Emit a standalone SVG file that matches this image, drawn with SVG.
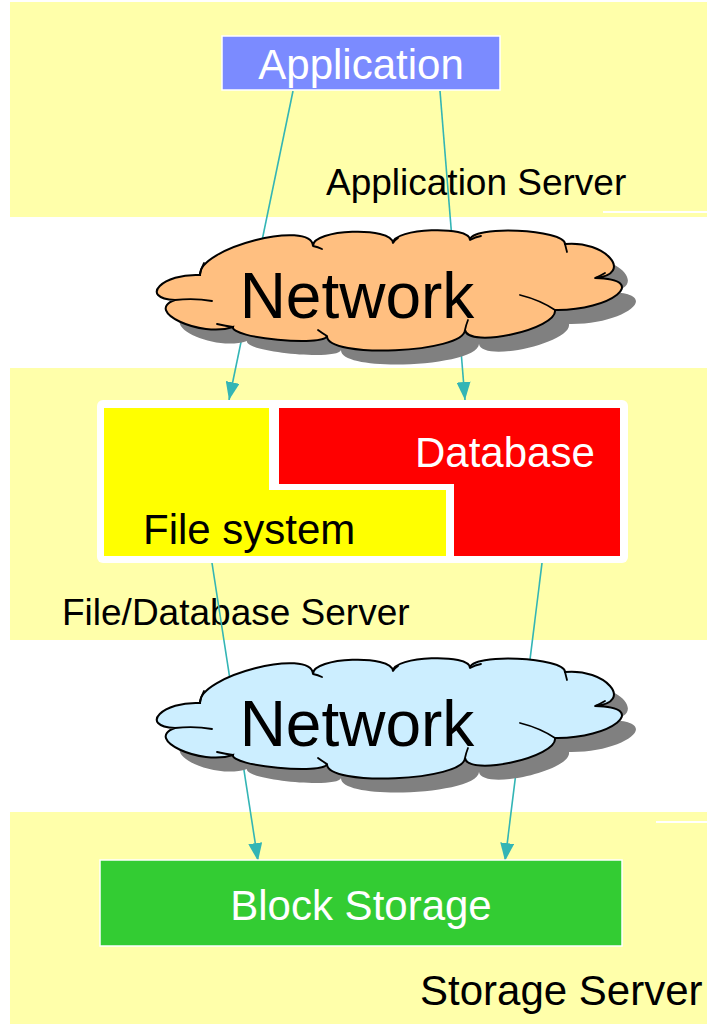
<svg xmlns="http://www.w3.org/2000/svg" xmlns:xlink="http://www.w3.org/1999/xlink" width="707" height="1024" viewBox="0 0 707 1024">
<style>
.panel{fill:#FFFFAA}
.lbl{font-family:"Liberation Sans",Arial,sans-serif;fill:#000}
.wt{font-family:"Liberation Sans",Arial,sans-serif;fill:#fff}
.conn{stroke:#33B5B5;stroke-width:1.6;fill:none}
.net{font-family:"Liberation Sans",Arial,sans-serif;font-size:64px;fill:#000;text-anchor:middle}
.notch{fill:none;stroke:#000;stroke-width:1.8;stroke-linecap:round}
</style>
<defs>
<marker id="arr" viewBox="0 0 18 14" refX="18" refY="7" markerWidth="18" markerHeight="14" markerUnits="userSpaceOnUse" orient="auto">
<path d="M0,0 L18,7 L0,14 Z" fill="#33B5B5"/>
</marker>
<path id="cloudPath" d="M200,275 C198,248 311,219 313,246 C312,229 392,226 393,243 C393,228 470,225 470,240 C470,225 565,229 565,244 C605,240 635,274 595,278 C651,279 611,311 555,310 C558,329 468,349 465,330 C464,353 326,359 327,336 C324,347 230,338 233,327 C201,338 143,311 175,300 C138,298 163,273 200,275 Z"/>
<g id="cloudNotches" class="notch">
<path d="M200,275 Q201,268 204,263"/>
<path d="M175,300 Q195,298 212,301"/>
<path d="M217,324 Q226,326 233,327"/>
<path d="M327,336 Q322,333 318,330"/>
<path d="M465,330 Q466,325 468,320"/>
<path d="M555,310 Q540,300 520,295"/>
<path d="M595,278 Q600,276 605,273"/>
<path d="M565,244 Q566,248 567,252"/>
<path d="M470,240 Q475,237 481,236"/>
<path d="M393,243 Q395,240 398,238"/>
<path d="M313,246 Q318,247 322,249"/>
</g>
</defs>

<g id="panels">
<rect class="panel" x="10" y="2" width="697" height="215"/>
<rect class="panel" x="10" y="368" width="697" height="272"/>
<rect class="panel" x="10" y="812" width="697" height="212"/>
<line x1="603" y1="212" x2="707" y2="212" stroke="#fff" stroke-width="2"/>
<line x1="656" y1="822" x2="707" y2="822" stroke="#fff" stroke-width="2"/>
</g>

<g id="panel-labels">
<text class="lbl" x="326" y="195" font-size="37">Application Server</text>
<text class="lbl" x="62" y="625" font-size="37">File/Database Server</text>
<text class="lbl" x="420" y="1005" font-size="42">Storage Server</text>
</g>

<g id="connectors">
<line class="conn" x1="293" y1="91" x2="229" y2="400" marker-end="url(#arr)"/>
<line class="conn" x1="440" y1="91" x2="465" y2="400" marker-end="url(#arr)"/>
<line class="conn" x1="212" y1="563" x2="258" y2="861" marker-end="url(#arr)"/>
<line class="conn" x1="542" y1="563" x2="505" y2="861" marker-end="url(#arr)"/>
</g>

<g id="application">
<rect x="222" y="36" width="278" height="54" fill="#7B8BFF" stroke="#fff" stroke-width="1.5"/>
<text class="wt" x="361" y="79" font-size="42" text-anchor="middle">Application</text>
</g>

<g id="network1">
<use xlink:href="#cloudPath" fill="#808080" transform="translate(14,14)"/>
<use xlink:href="#cloudPath" fill="#FFBF80" stroke="#000" stroke-width="2"/>
<use xlink:href="#cloudNotches"/>
<text class="net" x="357" y="318">Network</text>
</g>

<g id="file-database">
<rect x="97" y="400" width="531" height="163" rx="6" fill="#fff"/>
<polygon points="104,408 269,408 269,490 446,490 446,556 104,556" fill="#FFFF00"/>
<polygon points="279,408 620,408 620,556 454,556 454,484 279,484" fill="#FF0000"/>
<text class="wt" x="415" y="467" font-size="42">Database</text>
<text class="lbl" x="143" y="544" font-size="42">File system</text>
</g>

<g id="network2" transform="translate(0,428)">
<use xlink:href="#cloudPath" fill="#808080" transform="translate(14,14)"/>
<use xlink:href="#cloudPath" fill="#CCEEFF" stroke="#000" stroke-width="2"/>
<use xlink:href="#cloudNotches"/>
<text class="net" x="357" y="318">Network</text>
</g>

<g id="block-storage">
<rect x="100" y="860" width="522" height="86" fill="#33CC33" stroke="#fff" stroke-width="1.5"/>
<text class="wt" x="361" y="920" font-size="42" text-anchor="middle">Block Storage</text>
</g>
</svg>
